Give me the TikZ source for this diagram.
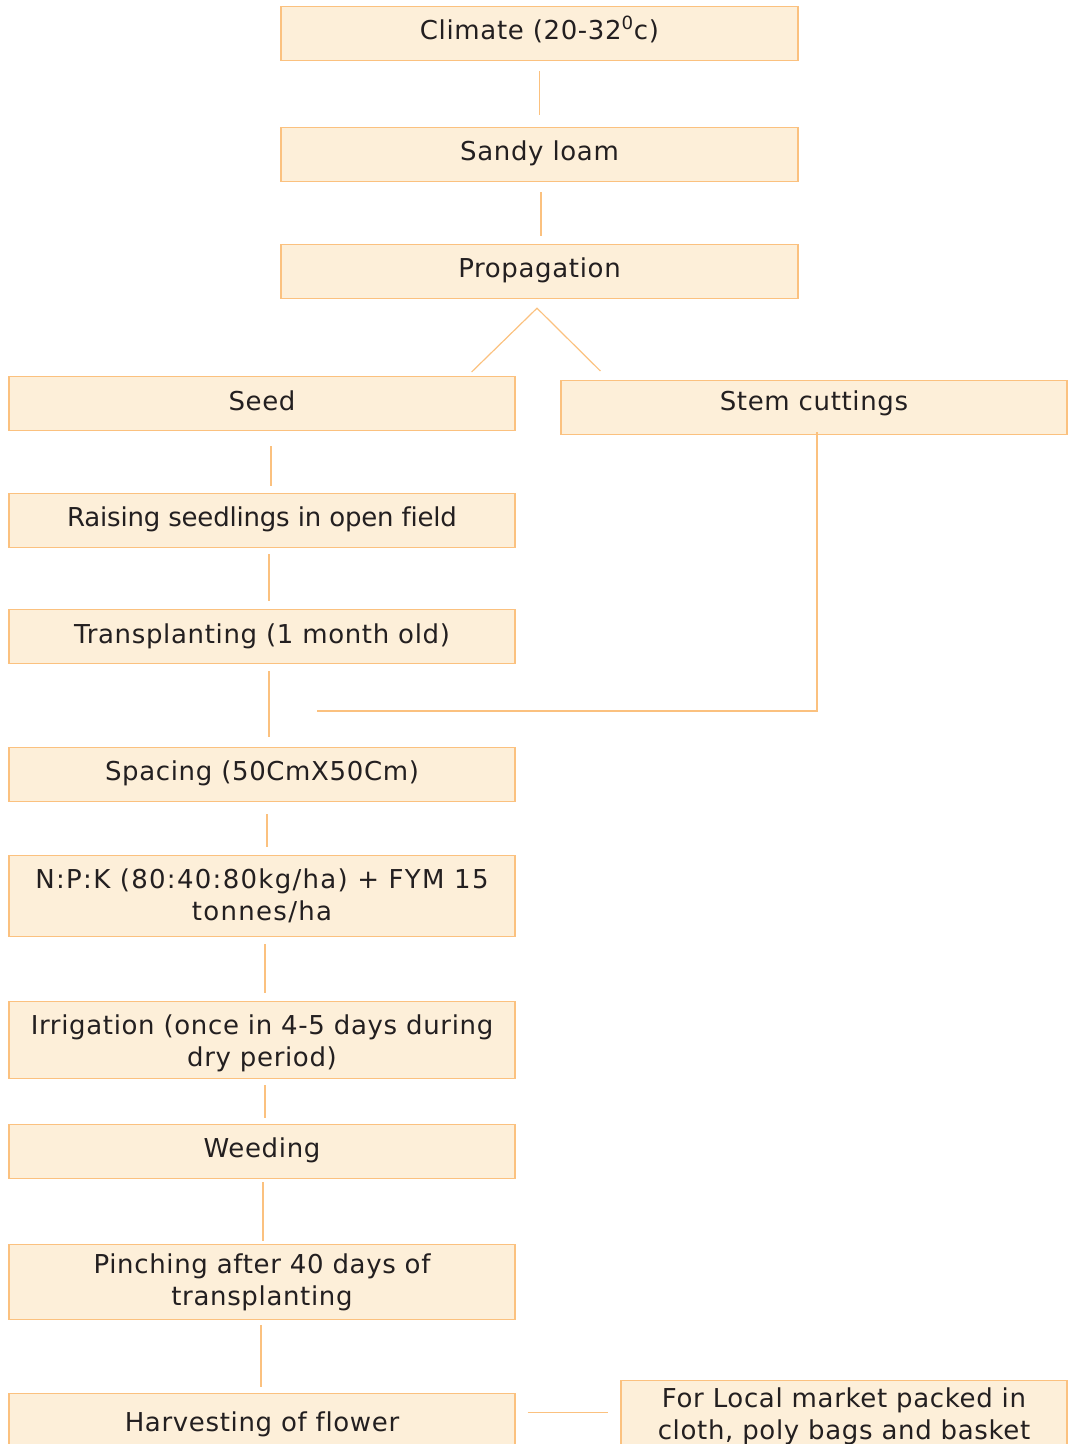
\documentclass[tikz,border=0pt]{standalone}
\usepackage{fontspec}
\setmainfont{DejaVu Sans}[LetterSpace=2.5,Ligatures=CommonOff]
\usetikzlibrary{calc}
\definecolor{boxfill}{HTML}{FDEFD9}
\definecolor{boxline}{HTML}{FBC17F}
\definecolor{txt}{HTML}{231F20}
\newcommand{\twolines}[2]{\begin{tabular}[t]{@{}c@{}}#1\\#2\end{tabular}}
\tikzset{
  flowbox/.style={draw=boxline, fill=boxfill, line width=0.9pt, inner sep=0pt,
    anchor=north, text=txt, font=\fontsize{19.5}{24}\selectfont,
    text height=33*0.75pt, text depth=21*0.75pt},
  wide/.style={minimum width=517*0.75pt},
  half/.style={minimum width=506*0.75pt},
  hd/.style 2 args={text height=#1*0.75pt, text depth=#2*0.75pt},
  conn/.style={draw=boxline, line width=0.9pt},
}
\begin{document}
\begin{tikzpicture}[x=0.75pt,y=-0.75pt]
\useasboundingbox (0,0) rectangle (1068,1444);
\clip (0,0) rectangle (1068,1444);
% top column
\node[flowbox,wide] (climate) at (539.5,6) {Climate (20-32\textsuperscript{0}c)};
\node[flowbox,wide] (sandy) at (539.5,127) {Sandy loam};
\node[flowbox,wide] (prop) at (539.5,244) {Propagation};
% branches
\node[flowbox,half,hd={34}{20}] (seed) at (262,376) {Seed};
\node[flowbox,half,hd={30}{24}] (stem) at (814,380) {Stem cuttings};
\node[flowbox,half] (raising) at (262,493) {\addfontfeatures{LetterSpace=-0.8}Raising seedlings in open field};
\node[flowbox,half,hd={34}{20}] (trans) at (262,609) {Transplanting (1 month old)};
\node[flowbox,half] (spacing) at (262,747) {Spacing (50CmX50Cm)};
\node[flowbox,half,hd={33}{48}] (npk) at (262,855) {\addfontfeatures{LetterSpace=5}\twolines{N:P:K (80:40:80kg/ha) + FYM 15}{tonnes/ha}};
\node[flowbox,half,hd={33}{44}] (irr) at (262,1001) {\twolines{Irrigation (once in 4-5 days during}{dry period)}};
\node[flowbox,half] (weed) at (262,1124) {Weeding};
\node[flowbox,half,hd={29}{46}] (pinch) at (262,1244) {\twolines{Pinching after 40 days of}{transplanting}};
\node[flowbox,half,hd={38}{20}] (harv) at (262,1393) {Harvesting of flower};
\node[flowbox,minimum width=446*0.75pt,hd={27}{42}] (local) at (844,1380) {\twolines{For Local market packed in}{cloth, poly bags and basket}};
% connectors
\draw[conn] ($(climate.south)+(0,10)$) -- ($(sandy.north)+(0,-12)$);
\draw[conn] ($(sandy.south)+(1.5,10)$) -- ($(prop.north)+(1.5,-8)$);
\coordinate (apex) at ($(prop.south)+(-2.5,9)$);
\draw[conn] ($(seed.north east)+(-44,-4)$) -- (apex) -- ($(stem.north west)+(40,-9)$);
\draw[conn] ($(seed.south)+(9,15)$) -- ($(raising.north)+(9,-7)$);
\draw[conn] ($(raising.south)+(7,6)$) -- ($(trans.north)+(7,-8)$);
\draw[conn] ($(trans.south)+(7,7)$) -- ($(spacing.north)+(7,-10)$);
\coordinate (join) at (317,711);
\draw[conn] ($(stem.south)+(3,-3)$) |- (join);
\draw[conn] ($(spacing.south)+(5,12)$) -- ($(npk.north)+(5,-8)$);
\draw[conn] ($(npk.south)+(3,7)$) -- ($(irr.north)+(3,-8)$);
\draw[conn] ($(irr.south)+(3,6)$) -- ($(weed.north)+(3,-6)$);
\draw[conn] ($(weed.south)+(1,3)$) -- ($(pinch.north)+(1,-3)$);
\draw[conn] ($(pinch.south)+(-1,5)$) -- ($(harv.north)+(-1,-6)$);
\draw[conn] ($(harv.east)+(12,-10)$) -- ($(local.west |- harv.east)+(-12,-10)$);
\end{tikzpicture}
\end{document}
